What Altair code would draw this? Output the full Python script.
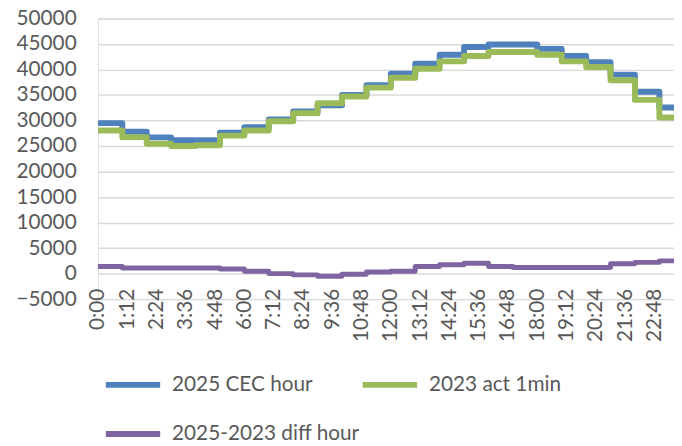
import altair as alt
import pandas as pd

# Hourly values (hour index 0..23)
hours = list(range(24))
cec_2025 = [29500, 27800, 26700, 26150, 26150, 27600, 28700, 30200, 31800, 33000, 35000, 36950,
            39200, 41150, 42900, 44400, 44900, 44900, 44050, 42650, 41450, 39000, 35650, 32550]
act_2023 = [28050, 26750, 25450, 25000, 25150, 27050, 28050, 29850, 31450, 33400, 34700, 36450,
            38400, 40150, 41600, 42650, 43450, 43450, 42900, 41600, 40500, 37900, 34050, 30600]
diff_hour = [1400, 1100, 1100, 1100, 1100, 900, 450, 0, -250, -500, -130, 300,
             450, 1400, 1750, 2050, 1400, 1200, 1200, 1200, 1200, 1950, 2200, 2500]

series_names = ["2025 CEC hour", "2023 act 1min", "2025-2023 diff hour"]
series_colors = ["#4F81BD", "#9BBB59", "#8064A2"]

tick_minutes = list(range(0, 1440, 72))
tick_labels = ["0:00", "1:12", "2:24", "3:36", "4:48", "6:00", "7:12", "8:24", "9:36", "10:48",
               "12:00", "13:12", "14:24", "15:36", "16:48", "18:00", "19:12", "20:24", "21:36", "22:48"]
y_ticks = list(range(-5000, 50001, 5000))

rows = []
for name, vals in zip(series_names, [cec_2025, act_2023, diff_hour]):
    for h, v in zip(hours, vals):
        rows.append({"series": name, "minute": h * 60, "value": v})
    rows.append({"series": name, "minute": 1440, "value": vals[-1]})
df = pd.DataFrame(rows)

FONT = "Lato"
GREY = "#595959"
label_expr = "[" + ",".join("'%s'" % t for t in tick_labels) + "][round(datum.value/72)]"

x_enc = alt.X("minute:Q",
              scale=alt.Scale(domain=[0, 1416], nice=False, zero=False),
              axis=alt.Axis(values=tick_minutes, labelExpr=label_expr, labelAngle=-90,
                            grid=False, domain=False, ticks=False, offset=-26,
                            labelPadding=15, labelFont=FONT, labelFontSize=21,
                            labelColor=GREY, labelOverlap=False, labelFlush=False,
                            title=None))
y_enc = alt.Y("value:Q",
              scale=alt.Scale(domain=[-5000, 50000], nice=False, zero=False),
              axis=alt.Axis(values=y_ticks, format="d", grid=True, gridColor="#D9D9D9",
                            gridWidth=1.5, domain=False, ticks=False, labelPadding=22,
                            labelFont=FONT, labelFontSize=21, labelColor=GREY, title=None))
color_enc = alt.Color("series:N",
                      scale=alt.Scale(domain=series_names, range=series_colors),
                      legend=alt.Legend(title=None, orient="none", legendX=5, legendY=340,
                                        direction="horizontal", columns=2, gridAlign="each",
                                        columnPadding=-10, rowPadding=7,
                                        symbolType="stroke", symbolSize=3025,
                                        symbolStrokeWidth=6, labelFont=FONT,
                                        labelFontSize=21, labelColor=GREY, labelOffset=9,
                                        labelLimit=400))

layers = []
for name, sw in zip(series_names, [6, 6, 5]):
    layers.append(
        alt.Chart(df).transform_filter(alt.datum.series == name)
        .mark_line(interpolate="step-after", strokeWidth=sw, clip=True, strokeJoin="round")
        .encode(x=x_enc, y=y_enc, color=color_enc)
    )

chart = alt.layer(*layers).properties(
    width=583, height=284,
    autosize=alt.AutoSizeParams(type="none"),
    padding={"left": 91, "top": 8, "right": 0, "bottom": 146},
).configure_view(stroke=None).configure(background="white")

chart.save("out.html", embed_options={"renderer": "svg", "actions": False})
